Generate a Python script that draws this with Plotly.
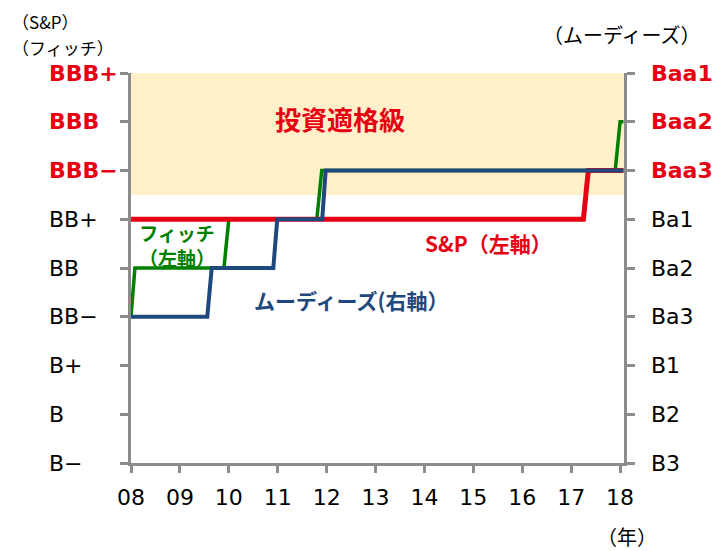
import plotly.graph_objects as go

# ---- data ----
left_ratings = ["B−", "B", "B+", "BB−", "BB", "BB+", "BBB−", "BBB", "BBB+"]
right_ratings = ["B3", "B2", "B1", "Ba3", "Ba2", "Ba1", "Baa3", "Baa2", "Baa1"]
investment_grade_left = ["BBB−", "BBB", "BBB+"]
investment_grade_right = ["Baa3", "Baa2", "Baa1"]

year_ticks = list(range(2008, 2019))
year_labels = ["08", "09", "10", "11", "12", "13", "14", "15", "16", "17", "18"]

sp_dates = [2008.0, 2017.25, 2017.35, 2018.07]
sp_ratings = ["BB+", "BB+", "BBB−", "BBB−"]

fitch_dates = [2008.0, 2008.08, 2009.9, 2010.0, 2011.8, 2011.9, 2017.9, 2018.0, 2018.07]
fitch_ratings = ["BB−", "BB", "BB", "BB+", "BB+", "BBB−", "BBB−", "BBB", "BBB"]

moodys_dates = [2008.0, 2009.56, 2009.65, 2010.91, 2010.99, 2011.91, 2011.98, 2018.07]
moodys_ratings = ["Ba3", "Ba3", "Ba2", "Ba2", "Ba1", "Ba1", "Baa3", "Baa3"]

ig_floor = 5.5  # lower edge of investment-grade band (between BB+ and BBB-)

# ---- styles ----
RED = "#E60012"
BLUE = "#1F497D"
GREEN = "#008000"
BAND = "#FFF0CA"
AXIS = "#8C8C8C"
LATIN = "DejaVu Sans"
JP = "Noto Sans CJK JP"

OFF = 8  # page body margin
PLOT_L, PLOT_R, PLOT_T, PLOT_B = 131, 624, 73, 463  # target plot box in window px
W, H = 727 - OFF, 551 - OFF
L_M = PLOT_L - OFF
T_M = PLOT_T - OFF
R_M = W - L_M - (PLOT_R - PLOT_L)
B_M = H - T_M - (PLOT_B - PLOT_T)
plot_w = PLOT_R - PLOT_L
plot_h = PLOT_B - PLOT_T


def px_x(p):
    return (p - PLOT_L) / plot_w


def px_y(p):
    return (PLOT_B - p) / plot_h


def lvl_left(r):
    return left_ratings.index(r)


def lvl_right(r):
    return right_ratings.index(r)


fig = go.Figure()

fig.add_trace(go.Scatter(
    x=fitch_dates, y=[lvl_left(r) for r in fitch_ratings],
    mode="lines", line=dict(color=GREEN, width=3.5), name="フィッチ", yaxis="y"))
fig.add_trace(go.Scatter(
    x=sp_dates, y=[lvl_left(r) for r in sp_ratings],
    mode="lines", line=dict(color=RED, width=5), name="S&P", yaxis="y"))
fig.add_trace(go.Scatter(
    x=moodys_dates, y=[lvl_right(r) for r in moodys_ratings],
    mode="lines", line=dict(color=BLUE, width=4), name="ムーディーズ", yaxis="y2"))

fig.add_shape(type="rect", xref="paper", x0=0, x1=1, yref="y",
              y0=ig_floor, y1=len(left_ratings) - 1,
              fillcolor=BAND, line_width=0, layer="below")

ann = []
# left tick labels
for i, r in enumerate(left_ratings):
    ig = r in investment_grade_left
    ann.append(dict(xref="paper", yref="y", x=px_x(47), y=i, text=r, showarrow=False,
                    xanchor="left", yanchor="middle",
                    font=dict(family=LATIN, size=22, color=RED if ig else "black",
                              weight="bold" if ig else "normal")))
# right tick labels
for i, r in enumerate(right_ratings):
    ig = r in investment_grade_right
    ann.append(dict(xref="paper", yref="y", x=px_x(649), y=i, text=r, showarrow=False,
                    xanchor="left", yanchor="middle",
                    font=dict(family=LATIN, size=22, color=RED if ig else "black",
                              weight="bold" if ig else "normal")))

txt = dict(showarrow=False, xanchor="center", yanchor="middle")
ann += [
    dict(xref="paper", yref="paper", x=px_x(10), y=px_y(21.5), text="（S&P）",
         showarrow=False, xanchor="left", yanchor="middle",
         font=dict(family=JP, size=17, color="black")),
    dict(xref="paper", yref="paper", x=px_x(10), y=px_y(47), text="（フィッチ）",
         showarrow=False, xanchor="left", yanchor="middle",
         font=dict(family=JP, size=17, color="black")),
    dict(xref="paper", yref="paper", x=px_x(622), y=px_y(35), text="（ムーディーズ）",
         font=dict(family=JP, size=20, color="black"), **txt),
    dict(xref="paper", yref="paper", x=px_x(627), y=px_y(536), text="（年）",
         font=dict(family=JP, size=20, color="black"), **txt),
    dict(xref="x", yref="y", x=2012.27, y=7.06, text="投資適格級",
         font=dict(family=JP, size=26, color=RED, weight="bold"), **txt),
    dict(xref="x", yref="y", x=2015.3, y=4.51, text="S&P（左軸）",
         font=dict(family=JP, size=21, color=RED, weight="bold"), **txt),
    dict(xref="x", yref="y", x=2012.5, y=3.34, text="ムーディーズ(右軸）",
         font=dict(family=JP, size=21, color=BLUE, weight="bold"), **txt),
    dict(xref="x", yref="y", x=2008.95, y=4.47, text="フィッチ<br>（左軸）",
         font=dict(family=JP, size=19, color=GREEN, weight="bold"), **txt),
]

fig.update_layout(
    width=W, height=H,
    margin=dict(l=L_M, r=R_M, t=T_M, b=B_M, pad=0),
    paper_bgcolor="white", plot_bgcolor="white",
    showlegend=False,
    xaxis=dict(range=[2008, 2018.08], tickvals=year_ticks, ticktext=year_labels,
               showgrid=False, zeroline=False, showline=True, linecolor=AXIS, linewidth=2.5,
               ticks="outside", ticklen=7, tickwidth=2.5, tickcolor=AXIS,
               ticklabelstandoff=6,
               tickfont=dict(family=LATIN, size=22, color="black")),
    yaxis=dict(range=[0, len(left_ratings) - 1], tickvals=list(range(len(left_ratings))),
               showticklabels=False, showgrid=False, zeroline=False,
               showline=True, linecolor=AXIS, linewidth=2.5,
               ticks="outside", ticklen=8, tickwidth=2.5, tickcolor=AXIS),
    yaxis2=dict(range=[0, len(right_ratings) - 1], tickvals=list(range(len(right_ratings))),
                overlaying="y", side="right",
                showticklabels=False, showgrid=False, zeroline=False,
                showline=True, linecolor=AXIS, linewidth=2.5,
                ticks="outside", ticklen=8, tickwidth=2.5, tickcolor=AXIS),
    annotations=ann,
)

fig.write_html("out.html")
